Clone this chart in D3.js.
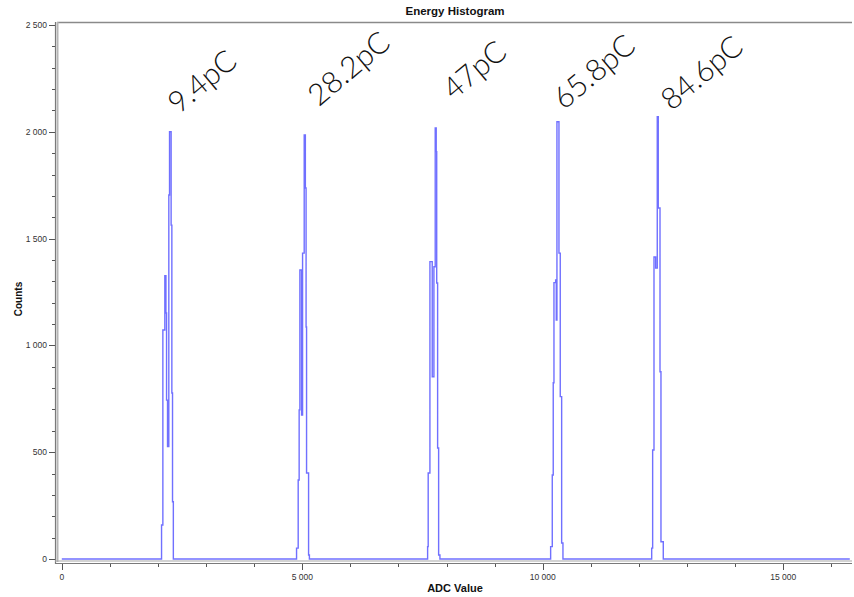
<!DOCTYPE html>
<html>
<head>
<meta charset="utf-8">
<script src="https://cdn.jsdelivr.net/npm/d3@7"></script>
<style>
  html, body { margin: 0; padding: 0; background: #fff; }
  svg { display: block; }
</style>
</head>
<body>
<svg id="chart" width="854" height="597"></svg>
<script>
// ---------------- DATA ----------------
const chartTitle = "Energy Histogram";
const xAxisTitle = "ADC Value";
const yAxisTitle = "Counts";

// Step edges (ADC value where a new count level starts) and counts, per peak
const peak1Adc    = [2074, 2101, 2142, 2165, 2178, 2198, 2225, 2240, 2273, 2288, 2302, 2319];
const peak1Counts = [ 159, 1072, 1326, 1152,  744,  526, 1704, 2000, 1563,  777,  268,    0];

const peak2Adc    = [4881, 4915, 4935, 4950, 4985, 5006, 5040, 5064, 5079, 5089, 5131, 5148];
const peak2Counts = [  51,  370,  698, 1353,  674, 1432, 1985, 1737, 1086,  403,   19,    0];

const peak3Adc    = [7606, 7618, 7654, 7702, 7737, 7764, 7785, 7795, 7814, 7835, 7862];
const peak3Counts = [  58,  403, 1392,  853, 1368, 2018, 1907, 1292,  520,   19,    0];

const peak4Adc    = [10164, 10198, 10218, 10233, 10268, 10281, 10295, 10337, 10364, 10393, 10420];
const peak4Counts = [   58,   393,   825,  1294,  1306,  1119,  2047,  1432,   760,    75,     0];

const peak5Adc    = [12265, 12285, 12313, 12348, 12381, 12402, 12438, 12458, 12506];
const peak5Counts = [   51,   510,  1414,  1362,  2071,  1643,   877,    81,     0];

// Annotation text and its anchor (baseline start) in data units
const peakLabels   = ["9.4pC", "28.2pC", "47pC", "65.8pC", "84.6pC"];
const peakLabelAdc = [2430, 5340, 8150, 10440, 12680];
const peakLabelCnt = [2080, 2115, 2145, 2100, 2095];

const xMajorTicks = [0, 5000, 10000, 15000];
const yMajorTicks = [0, 500, 1000, 1500, 2000, 2500];
const adcMax = 16384;

// ---------------- BUILD ----------------
const peaks = [
  [peak1Adc, peak1Counts],
  [peak2Adc, peak2Counts],
  [peak3Adc, peak3Counts],
  [peak4Adc, peak4Counts],
  [peak5Adc, peak5Counts]
];
const series = [[0, 0]];
peaks.forEach(([a, c]) => a.forEach((v, i) => series.push([v, c[i]])));
series.push([adcMax, 0]);

const svg = d3.select("#chart");
const x = d3.scaleLinear().domain([-100, 16430]).range([57, 852]);
const y = d3.scaleLinear().domain([-14, 2514]).range([562, 22]);

const loc = d3.formatLocale({decimal: ".", thousands: "\u00a0", grouping: [3], currency: ["", ""]});
const fmt = loc.format(",");

const tickFont = "Liberation Sans, Arial, sans-serif";

// frame: top border
svg.append("line")
  .attr("x1", x(-100)).attr("x2", x(16430))
  .attr("y1", y(2514) + 0.5).attr("y2", y(2514) + 0.5)
  .attr("stroke", "#8a8a8a").attr("stroke-width", 1.5);

// histogram line
const line = d3.line()
  .x(d => x(d[0]))
  .y(d => y(d[1]))
  .curve(d3.curveStepAfter);

svg.append("path")
  .datum(series)
  .attr("d", line)
  .attr("fill", "none")
  .attr("stroke", "#5757ff")
  .attr("stroke-opacity", 0.85)
  .attr("stroke-width", 1.4);

// Y axis
const yAxisG = svg.append("g");
yAxisG.append("line")
  .attr("x1", 55.5).attr("x2", 55.5)
  .attr("y1", y(2514)).attr("y2", y(-14) + 2)
  .attr("stroke", "#7a7a7a").attr("stroke-width", 1.2);
yAxisG.append("line")
  .attr("x1", 57.5).attr("x2", 57.5)
  .attr("y1", y(2514)).attr("y2", y(-14))
  .attr("stroke", "#b5b5b5").attr("stroke-width", 2);

const yMinor = d3.range(0, 2501, 100).filter(v => v % 500 !== 0);
yAxisG.selectAll(".ymin").data(yMinor).enter().append("line")
  .attr("x1", 52).attr("x2", 55)
  .attr("y1", d => Math.round(y(d)) + 0.5).attr("y2", d => Math.round(y(d)) + 0.5)
  .attr("stroke", "#555").attr("stroke-width", 1);
yAxisG.selectAll(".ymaj").data(yMajorTicks).enter().append("line")
  .attr("x1", 49).attr("x2", 55)
  .attr("y1", d => Math.round(y(d)) + 0.5).attr("y2", d => Math.round(y(d)) + 0.5)
  .attr("stroke", "#555").attr("stroke-width", 1);
yAxisG.selectAll(".ylab").data(yMajorTicks).enter().append("text")
  .attr("x", 47).attr("y", d => y(d) + 3)
  .attr("text-anchor", "end")
  .attr("font-family", tickFont).attr("font-size", 8.5)
  .attr("fill", "#333")
  .text(d => fmt(d));

// X axis
const xAxisG = svg.append("g");
xAxisG.append("line")
  .attr("x1", x(-100) - 2).attr("x2", x(16430))
  .attr("y1", 561).attr("y2", 561)
  .attr("stroke", "#a8a8a8").attr("stroke-width", 1.2);
xAxisG.append("line")
  .attr("x1", x(-100) - 2).attr("x2", x(16430))
  .attr("y1", 563.5).attr("y2", 563.5)
  .attr("stroke", "#7a7a7a").attr("stroke-width", 1.2);

const xMinor = d3.range(0, 16431, 1000).filter(v => v % 5000 !== 0);
xAxisG.selectAll(".xmin").data(xMinor).enter().append("line")
  .attr("x1", d => Math.round(x(d)) + 0.5).attr("x2", d => Math.round(x(d)) + 0.5)
  .attr("y1", 564).attr("y2", 567)
  .attr("stroke", "#555").attr("stroke-width", 1);
xAxisG.selectAll(".xmaj").data(xMajorTicks).enter().append("line")
  .attr("x1", d => Math.round(x(d)) + 0.5).attr("x2", d => Math.round(x(d)) + 0.5)
  .attr("y1", 564).attr("y2", 570)
  .attr("stroke", "#555").attr("stroke-width", 1);
xAxisG.selectAll(".xlab").data(xMajorTicks).enter().append("text")
  .attr("x", d => x(d)).attr("y", 580)
  .attr("text-anchor", "middle")
  .attr("font-family", tickFont).attr("font-size", 8.5)
  .attr("fill", "#333")
  .text(d => fmt(d));

// Titles
svg.append("text")
  .attr("x", 455).attr("y", 15)
  .attr("text-anchor", "middle")
  .attr("font-family", tickFont).attr("font-weight", "bold").attr("font-size", 11.5)
  .attr("fill", "#111")
  .text(chartTitle);

svg.append("text")
  .attr("x", 455).attr("y", 592)
  .attr("text-anchor", "middle")
  .attr("font-family", tickFont).attr("font-weight", "bold").attr("font-size", 11)
  .attr("fill", "#111")
  .text(xAxisTitle);

svg.append("text")
  .attr("transform", "translate(22,299) rotate(-90)")
  .attr("text-anchor", "middle")
  .attr("font-family", tickFont).attr("font-weight", "bold").attr("font-size", 10)
  .attr("fill", "#111")
  .text(yAxisTitle);

// Peak annotations
svg.selectAll(".plab").data(peakLabels).enter().append("text")
  .attr("transform", (d, i) => `translate(${x(peakLabelAdc[i])},${y(peakLabelCnt[i])}) rotate(-40)`)
  .attr("text-anchor", "start")
  .attr("font-family", "Lato, 'Open Sans', sans-serif")
  .attr("font-weight", 300)
  .attr("font-size", 30)
  .attr("fill", "#111")
  .text(d => d);
</script>
</body>
</html>
